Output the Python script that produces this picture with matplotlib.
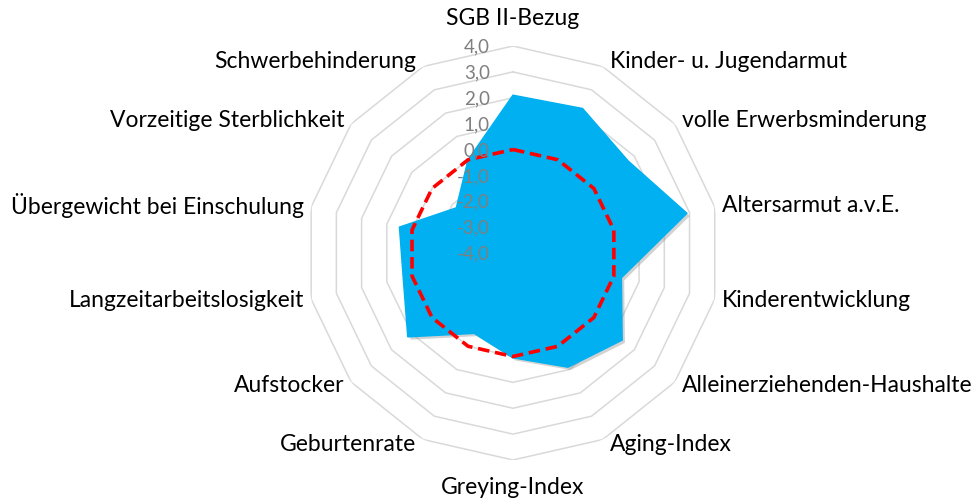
import matplotlib

matplotlib.use("Agg")
import matplotlib.pyplot as plt
import matplotlib.patheffects as pe
import numpy as np

plt.rcParams["font.family"] = ["Lato", "DejaVu Sans"]

KATEGORIEN = [
    "SGB II-Bezug",
    "Kinder- u. Jugendarmut",
    "volle Erwerbsminderung",
    "Altersarmut a.v.E.",
    "Kinderentwicklung",
    "Alleinerziehenden-Haushalte",
    "Aging-Index",
    "Greying-Index",
    "Geburtenrate",
    "Aufstocker",
    "Langzeitarbeitslosigkeit",
    "Übergewicht bei Einschulung",
    "Vorzeitige Sterblichkeit",
    "Schwerbehinderung",
]
WERTE = [2.1, 2.2, 1.7, 2.9, 0.3, 1.4, 0.9, 0.05, -0.55, 1.2, 0.35, 0.5, -1.2, 0.0]
REFERENZ = [0.0] * 14
SKALA = [-4, -3, -2, -1, 0, 1, 2, 3, 4]

BLAU = "#00B0F0"
ROT = "#FF0000"
GITTER = "#D9D9D9"

n = len(KATEGORIEN)
winkel = np.arange(n) * 2 * np.pi / n
winkel_zu = np.append(winkel, winkel[0])

fig = plt.figure(figsize=(9.75, 5), dpi=100)
ax = fig.add_axes([0.3138, 0.08, 0.4246, 0.828], projection="polar")
ax.set_theta_zero_location("N")
ax.set_theta_direction(-1)
ax.set_ylim(SKALA[0], SKALA[-1])
ax.grid(False)
ax.set_xticks([])
ax.set_yticks([])
ax.spines["polar"].set_visible(False)
ax.patch.set_alpha(0)

# Polygon-Gitter
for stufe in SKALA[1:]:
    ax.plot(winkel_zu, [stufe] * (n + 1), color=GITTER, lw=1.1, zorder=1)

werte_zu = np.append(WERTE, WERTE[0])
ax.fill(
    winkel_zu,
    werte_zu,
    color=BLAU,
    zorder=2,
    path_effects=[
        pe.SimplePatchShadow(offset=(2, -2), shadow_rgbFace="#808080", alpha=0.35),
        pe.Normal(),
    ],
)

ref_zu = np.append(REFERENZ, REFERENZ[0])
ax.plot(winkel_zu, ref_zu, color=ROT, lw=2.6, linestyle=(0, (3.2, 1.6)), zorder=3)

# Achsenbeschriftung
for stufe in SKALA:
    ax.annotate(
        f"{stufe:.1f}".replace(".", ","),
        xy=(0, stufe),
        xytext=(-23, -1),
        textcoords="offset pixels",
        ha="right",
        va="center",
        fontsize=13.5,
        color="#7F7F7F",
        zorder=5,
        annotation_clip=False,
    )

# Kategorien
for name, w in zip(KATEGORIEN, winkel):
    s, c = np.sin(w), np.cos(w)
    if abs(s) < 0.1:
        ha, dx, dy = "center", 0, 28 * c
    else:
        ha = "left" if s > 0 else "right"
        dx, dy = 7 * np.sign(s), 6 * c
    ax.annotate(
        name,
        xy=(w, SKALA[-1]),
        xytext=(dx, dy),
        textcoords="offset pixels",
        ha=ha,
        va="center",
        fontsize=16.5,
        color="black",
        annotation_clip=False,
    )

fig.savefig("out.png", dpi=100)
